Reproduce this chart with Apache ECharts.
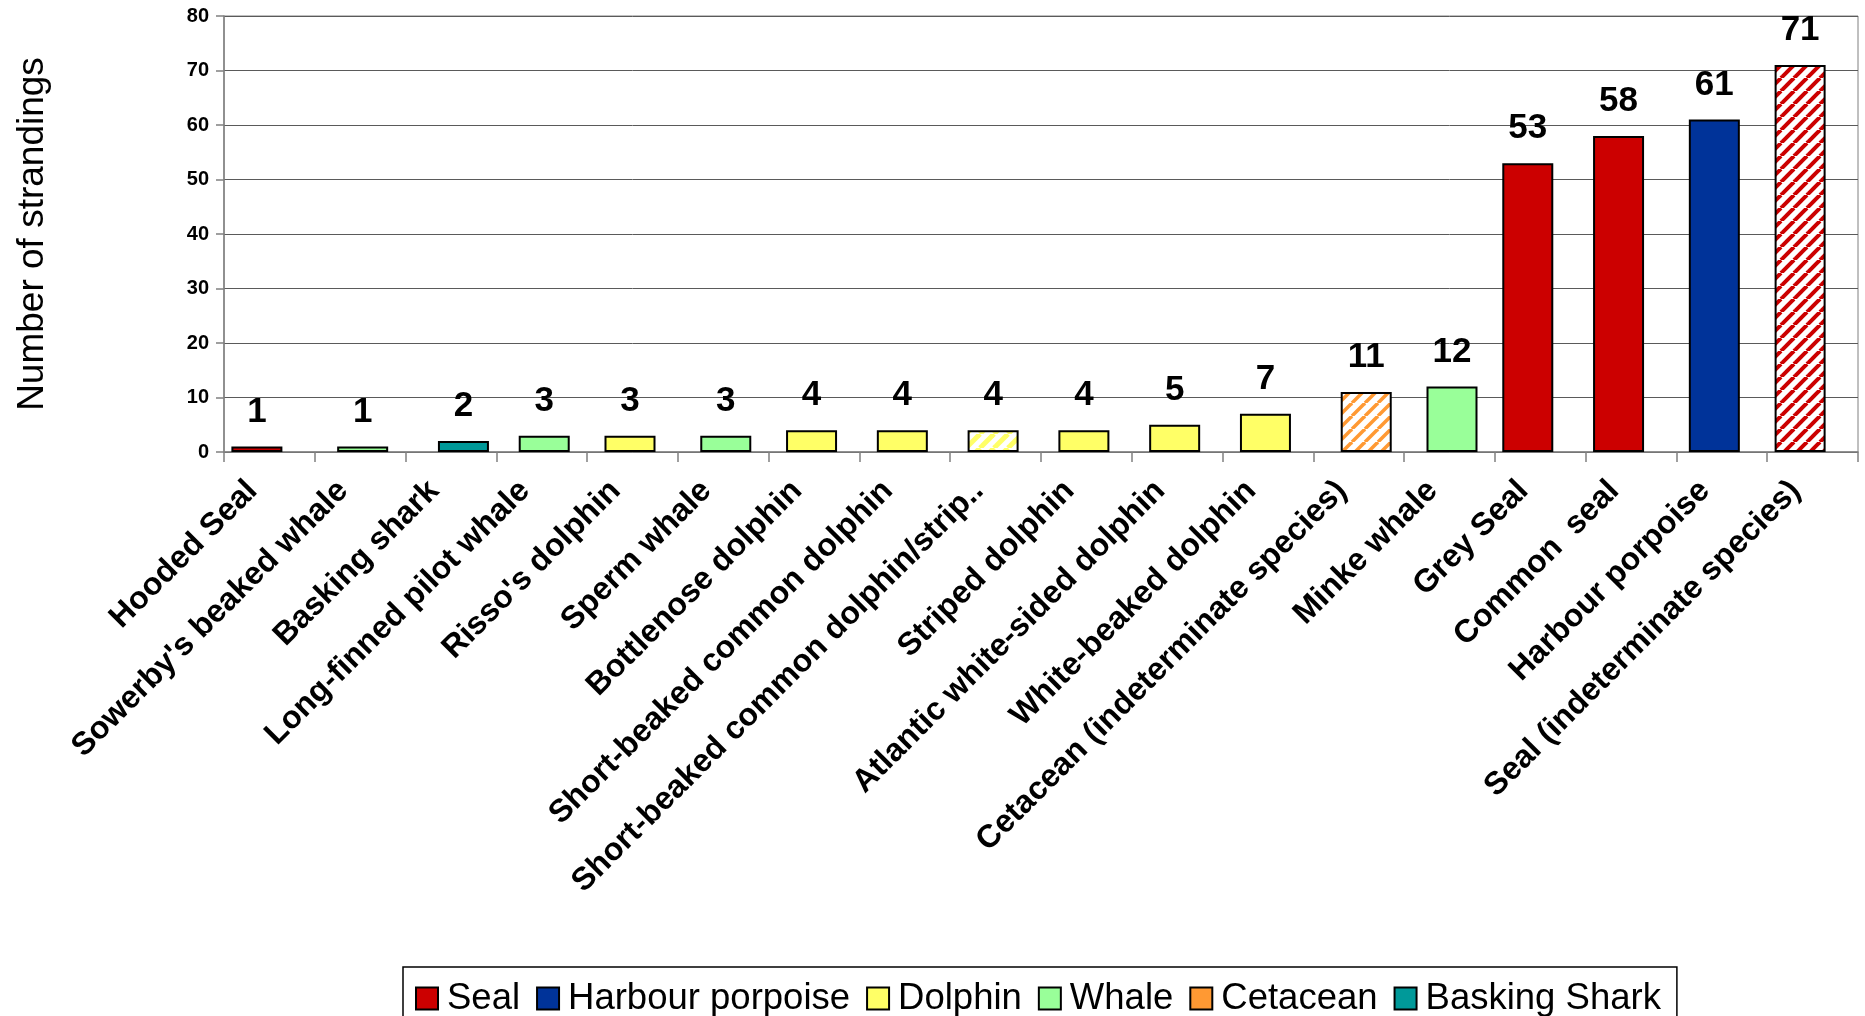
<!DOCTYPE html>
<html>
<head>
<meta charset="utf-8">
<title>Number of strandings by species</title>
<script src="https://cdn.jsdelivr.net/npm/echarts@6/dist/echarts.min.js"></script>
<style>
  html, body { margin: 0; padding: 0; background: #fff; }
  #chart { width: 1865px; height: 1016px; }
</style>
</head>
<body>
<div id="chart"></div>
<script>
// Strandings per species
const categories = [
  'Hooded Seal',
  "Sowerby's beaked whale",
  'Basking shark',
  'Long-finned pilot whale',
  "Risso's dolphin",
  'Sperm whale',
  'Bottlenose dolphin',
  'Short-beaked common dolphin',
  'Short-beaked common dolphin/strip..',
  'Striped dolphin',
  'Atlantic white-sided dolphin',
  'White-beaked dolphin',
  'Cetacean (indeterminate species)',
  'Minke whale',
  'Grey Seal',
  'Common  seal',
  'Harbour porpoise',
  'Seal (indeterminate species)'
];
const strandings = [1, 1, 2, 3, 3, 3, 4, 4, 4, 4, 5, 7, 11, 12, 53, 58, 61, 71];
const groupOf = [
  'Seal', 'Whale', 'Basking Shark', 'Whale', 'Dolphin', 'Whale',
  'Dolphin', 'Dolphin', 'Dolphin', 'Dolphin', 'Dolphin', 'Dolphin',
  'Cetacean', 'Whale', 'Seal', 'Seal', 'Harbour porpoise', 'Seal'
];
// uncertain identifications are drawn hatched
const uncertain = [
  false, false, false, false, false, false, false, false, true,
  false, false, false, true, false, false, false, false, true
];
const groups = ['Seal', 'Harbour porpoise', 'Dolphin', 'Whale', 'Cetacean', 'Basking Shark'];
const groupColors = {
  'Seal': '#CC0000',
  'Harbour porpoise': '#003399',
  'Dolphin': '#FFFF66',
  'Whale': '#99FF99',
  'Cetacean': '#FF9933',
  'Basking Shark': '#009999'
};
const yTicks = { min: 0, max: 80, interval: 10 };

const FONT = '"Liberation Sans", Arial, sans-serif';

// diagonal "/" stripes on white
function stripePattern(color, period, lineWidth) {
  const c = document.createElement('canvas');
  c.width = period; c.height = period;
  const ctx = c.getContext('2d');
  ctx.fillStyle = '#ffffff';
  ctx.fillRect(0, 0, period, period);
  ctx.strokeStyle = color;
  ctx.lineWidth = lineWidth;
  for (let k = -1; k <= 1; k++) {
    ctx.beginPath();
    ctx.moveTo(k * period, period);
    ctx.lineTo(k * period + period, 0);
    ctx.stroke();
  }
  return { image: c, repeat: 'repeat' };
}
const hatchFor = {
  'Seal': stripePattern('#CC0000', 13, 4),
  'Dolphin': stripePattern('#FFFF66', 14, 5),
  'Cetacean': stripePattern('#FF9933', 13, 3.5)
};

// clustered bars, heavily overlapped: each group sits slightly shifted in its slot
const series = groups.map(g => ({
  name: g,
  type: 'bar',
  barWidth: 51,
  barGap: '-90.2%',
  itemStyle: { color: groupColors[g], borderColor: '#000', borderWidth: 2 },
  label: {
    show: true,
    position: 'top',
    distance: 17,
    fontFamily: FONT,
    fontSize: 35,
    fontWeight: 'bold',
    color: '#000'
  },
  emphasis: { disabled: true },
  data: strandings.map((v, i) => {
    if (groupOf[i] !== g) return '-';
    if (uncertain[i]) return { value: v, itemStyle: { color: hatchFor[g] } };
    return v;
  })
}));

const chart = echarts.init(document.getElementById('chart'), null, { renderer: 'canvas' });
chart.setOption({
  animation: false,
  backgroundColor: '#ffffff',
  grid: {
    left: 224, right: 7, top: 16, bottom: 564,
    show: true, borderColor: '#808080', borderWidth: 1, backgroundColor: 'transparent'
  },
  legend: {
    data: groups,
    left: 403,
    top: 967,
    orient: 'horizontal',
    itemWidth: 22,
    itemHeight: 22,
    itemGap: 16,
    icon: 'rect',
    padding: [13, 16, 24, 12],
    borderColor: '#000',
    borderWidth: 1.5,
    textStyle: { fontFamily: FONT, fontSize: 36.5, color: '#000', padding: [0, 0, 0, 4] },
    selectedMode: false
  },
  xAxis: {
    type: 'category',
    data: categories,
    axisLine: { show: true, lineStyle: { color: '#808080', width: 1.5 } },
    axisTick: { show: true, length: 10, alignWithLabel: false, lineStyle: { color: '#808080', width: 1.5 } },
    axisLabel: {
      interval: 0,
      rotate: 45,
      margin: 17,
      padding: [0, 24, 0, 0],
      fontFamily: FONT,
      fontSize: 32,
      fontWeight: 'bold',
      color: '#000'
    },
    splitLine: { show: false }
  },
  yAxis: {
    type: 'value',
    min: yTicks.min,
    max: yTicks.max,
    interval: yTicks.interval,
    name: 'Number of strandings',
    nameLocation: 'middle',
    nameRotate: 90,
    nameGap: 173,
    nameTextStyle: { fontFamily: FONT, fontSize: 37, color: '#000' },
    axisLine: { show: true, lineStyle: { color: '#808080', width: 1.5 } },
    axisTick: { show: true, length: 8, lineStyle: { color: '#808080', width: 1.5 } },
    axisLabel: {
      margin: 15,
      fontFamily: FONT,
      fontSize: 20,
      fontWeight: 'bold',
      color: '#000'
    },
    splitLine: { show: true, lineStyle: { color: '#5a5a5a', width: 1 } }
  },
  series: series
});
</script>
</body>
</html>
